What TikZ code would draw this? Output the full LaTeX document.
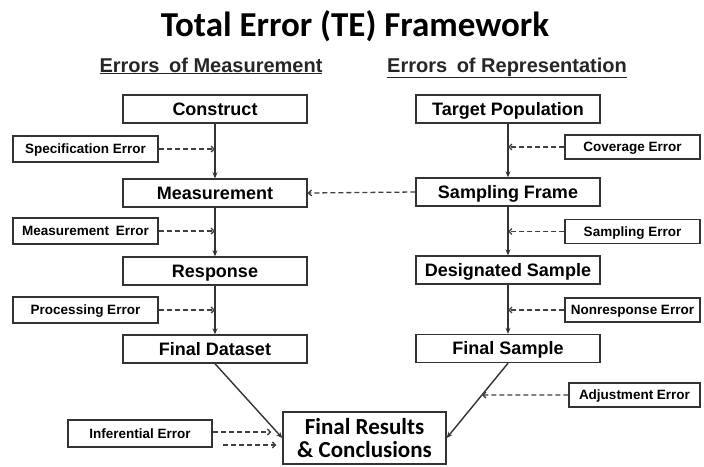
\documentclass[tikz,border=0pt]{standalone}
\usepackage{fontspec}
\setmainfont{Liberation Sans}
\newfontfamily\calib{Carlito}
\usetikzlibrary{arrows.meta,calc}
\begin{document}
\begin{tikzpicture}[x=1pt,y=-1pt,
 box/.style={draw=black!80, line width=1.4pt, fill=white, minimum width=184pt, minimum height=28pt, inner sep=0pt, text height=15pt, text depth=3pt, font=\bfseries\fontsize{18}{20}\selectfont},
 errL/.style={draw=black!80, line width=1.3pt, fill=white, minimum width=145pt, minimum height=26pt, inner sep=0pt, text height=11pt, text depth=2pt, font=\bfseries\fontsize{13.5}{15}\selectfont},
 errR/.style={errL, minimum width=135pt, minimum height=24pt},
 flow/.style={line width=1.4pt, draw=black!80, -{Stealth[length=6pt,width=5pt]}},
 dasharr/.style={line width=1.3pt, draw=black!75, dash pattern=on 5pt off 3pt, -{Straight Barb[length=3pt,width=6pt]}},
 subtitle/.style={anchor=base, font=\bfseries\fontsize{20}{22}\selectfont, text=black!85},
]
\fill[white] (0,0) rectangle (704,466);
\path[use as bounding box] (0,0) rectangle (704,466);

% title
\node[anchor=base, font=\calib\bfseries\fontsize{35}{40}\selectfont] (title) at (355,36) {Total Error (TE) Framework};
\node[subtitle] (subL) at (211,72) {\underline{Errors\hspace{4pt} of Measurement}};
\node[subtitle] (subR) at (507,72) {\underline{Errors\hspace{4pt} of Representation}};

% left column
\node[box] (cons) at (215,109) {Construct};
\node[box] (meas) at (215,193) {Measurement};
\node[box] (resp) at (215,271) {Response};
\node[box] (fdata) at (215,349) {Final Dataset};

% right column
\node[box] (tpop) at (508,109) {Target Population};
\node[box] (sframe) at (508,192) {Sampling Frame};
\node[box] (dsamp) at (508,270) {Designated Sample};
\node[box] (fsamp) at (508,348.5) {Final Sample};

% final results
\node[draw=black!80, line width=1.4pt, fill=white, minimum width=163pt, minimum height=52pt, inner sep=0pt, align=center,
      font=\calib\bfseries\fontsize{23}{23}\selectfont] (fres) at (364.5,438) {Final Results\\ \& Conclusions};

% error boxes left
\node[errL] (spec) at (85.5,149) {Specification Error};
\node[errL] (merr) at (85.5,231) {Measurement\hspace{3pt} Error};
\node[errL] (perr) at (85.5,310) {Processing Error};
\node[errL, minimum width=144pt, minimum height=27pt] (inf) at (140,433.5) {Inferential Error};

% error boxes right
\node[errR] (cov) at (632.5,147) {Coverage Error};
\node[errR] (serr) at (632.5,231.5) {Sampling Error};
\node[errR] (nerr) at (632.5,310) {Nonresponse Error};
\node[errR, minimum width=131pt] (adj) at (634.5,395) {Adjustment Error};

% solid flow
\draw[flow] (cons.south) -- (meas.north);
\draw[flow] (meas.south) -- (resp.north);
\draw[flow] (resp.south) -- (fdata.north);
\draw[flow] (tpop.south) -- (sframe.north);
\draw[flow] (sframe.south) -- (dsamp.north);
\draw[flow] (dsamp.south) -- (fsamp.north);
\draw[flow] (fdata.south) -- (fres.west);
\draw[flow] (fsamp.south) -- (fres.east);

% dashed error arrows
\draw[dasharr] (spec.east) -- (spec.east -| cons.south);
\draw[dasharr] (merr.east) -- (merr.east -| cons.south);
\draw[dasharr] (perr.east) -- (perr.east -| cons.south);
\draw[dasharr] (cov.west) -- (cov.west -| tpop.south);
\draw[dasharr] (serr.west) -- (serr.west -| tpop.south);
\draw[dasharr] (nerr.west) -- (nerr.west -| tpop.south);
\draw[dasharr] (sframe.west) -- (meas.east);

\coordinate (adjh) at (adj.west -| fres.east);
\coordinate (adjt) at (intersection of fsamp.south--fres.east and adj.west--adjh);
\draw[dasharr] (adj.west) -- (adjt);

\coordinate (infA) at ($(inf.east)+(0,-1.5)$);
\coordinate (infAt) at ($(fres.west)+(-11,-6)$);
\coordinate (infB) at ($(inf.east)+(10,11.5)$);
\coordinate (infBt) at ($(fres.west)+(-6,7)$);
\draw[dasharr] (infA) -- (infAt);
\draw[dasharr] (infB) -- (infBt);
\end{tikzpicture}
\end{document}
